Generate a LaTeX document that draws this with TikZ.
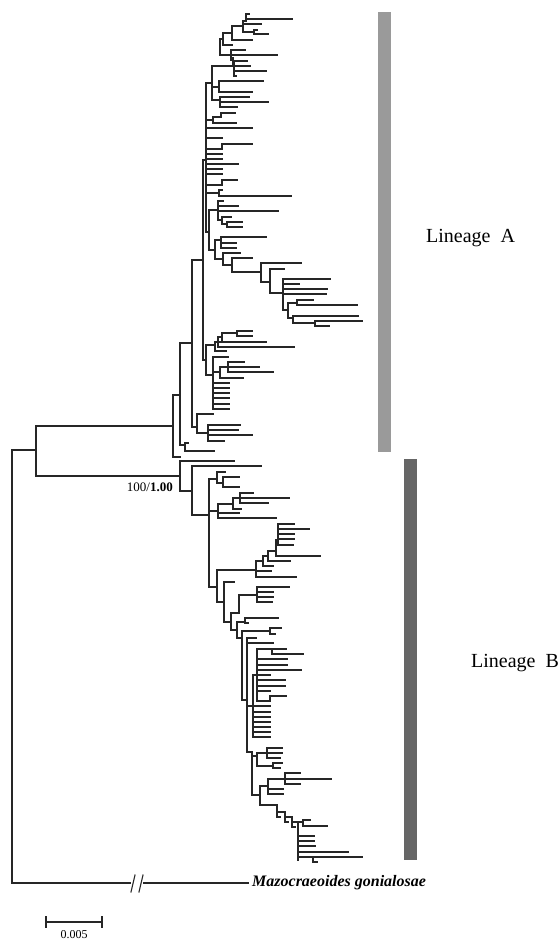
\documentclass[tikz,border=0pt]{standalone}
\usepackage{fontspec}
\setmainfont{Liberation Serif}
\definecolor{barA}{HTML}{9A9A9A}
\definecolor{barB}{HTML}{666666}
\definecolor{brc}{HTML}{262626}
\begin{document}
\begin{tikzpicture}[x=1pt,y=-1pt,
  br/.style={line width=1.1pt,draw=brc,line cap=rect},
  thickbr/.style={line width=2.2pt,draw=brc},
  lbl/.style={inner sep=0pt,font=\fontsize{20}{24}\selectfont}]
\useasboundingbox (0,0) rectangle (558,940);
% lineage bars
\fill[barA] (378,12) rectangle (391,452);
\fill[barB] (404,459) rectangle (417,860);
\node[lbl,anchor=west] (linA) at (426,238) {Lineage\enspace A};
\node[lbl,anchor=west] (linB) at (471,663) {Lineage\enspace B};
% horizontal branches y/x1/x2
\foreach \y/\a/\b in {
 14/246/249,19/246/292,21/243/246,24/243/261,30/254/257,34/254/268,32/243/254,
 26/232/243,40/232/252,33/223/232,45/223/232,39/220/223,50/231/245,55/220/277,
 60/231/233,61/233/247,66/212/250,71/234/266,76/234/236,
 83/206/212,81/219/263,87/212/219,92/219/252,97/220/249,100/212/220,102/220/268,107/220/237,
 113/221/235,117/213/221,120/206/213,123/213/236,
 128/206/252,138/206/222,144/222/252,149/206/222,154/206/222,159/206/222,164/206/238,169/206/222,174/206/222,
 180/222/237,185/206/222,190/219/222,193/206/219,196/219/291,
 201/218/223,206/218/238,211/218/278,220/218/222,217/222/231,224/222/227,222/227/242,227/227/242,
 210/209/218,250/209/215,232/206/209,240/215/221,237/221/266,243/221/236,248/221/236,
 253/223/240,259/215/223,265/223/232,258/232/252,272/232/261,
 263/261/301,282/261/270,269/270/284,293/270/283,279/283/330,284/283/299,289/283/327,294/283/326,
 310/283/288,303/288/297,300/297/313,305/297/357,318/288/293,316/293/358,323/293/315,321/315/362,326/315/329,
 160/203/206,360/203/206,260/192/203,
 345/206/215,337/218/222,333/222/237,331/237/252,336/237/252,342/215/266,347/218/294,351/215/226,
 375/206/213,357/213/228,372/213/220,367/220/259,362/228/244,372/228/273,378/220/243,
 383/213/229,388/213/229,393/213/229,398/213/229,404/213/229,409/213/229,
 343/180/192,427/192/197,414/197/213,433/197/208,425/208/240,430/208/238,435/208/252,441/208/224,
 395/173/180,445/180/185,443/185/188,451/185/214,457/173/180,426/36/173,450/12/36,
 476/36/180,461/180/234,466/192/261,515/192/209,
 479/209/217,472/217/225,483/217/223,477/223/239,487/223/239,
 511/209/218,504/218/233,498/233/289,509/233/241,493/240/253,503/240/268,513/218/239,518/218/276,
 587/209/217,570/217/256,561/256/263,571/256/271,577/256/296,556/263/268,566/263/273,
 551/268/276,561/268/290,540/276/278,556/276/320,
 524/278/294,529/278/309,534/278/294,539/278/294,545/278/293,
 602/217/224,582/224/234,622/224/231,
 587/257/289,592/257/273,597/257/273,602/257/272,595/239/257,613/231/239,
 630/231/237,622/237/245,618/245/278,623/245/248,638/237/242,631/242/270,628/270/281,634/270/275,700/242/247,
 638/247/256,643/247/273,
 649/257/286,654/272/303,659/257/287,665/257/287,670/257/301,675/257/270,680/257/285,686/257/285,
 691/257/270,696/270/286,701/257/270,675/253/257,
 706/247/270,712/253/270,717/253/270,722/253/270,727/253/270,732/253/270,737/253/270,
 752/247/252,756/252/257,753/257/267,748/267/282,753/267/282,758/267/280,766/257/273,763/273/282,768/273/280,
 795/252/260,786/260/268,779/268/331,773/285/300,784/285/300,789/268/283,794/268/283,
 805/260/277,817/277/280,812/277/285,822/285/288,817/285/292,827/292/295,822/292/303,
 820/303/310,826/303/327,836/298/314,841/298/314,846/298/315,852/298/348,857/298/362,862/313/317,
 883/12/130,883/144/248,922/46/102}
 \draw[br] (\a,\y) -- (\b,\y);
% vertical branches x/y1/y2
\foreach \x/\a/\b in {
 246/14/21,243/21/32,254/30/34,232/26/40,223/33/45,220/39/55,231/50/60,233/58/66,234/63/76,212/66/100,
 219/81/92,220/97/107,221/113/117,213/117/123,222/144/149,222/180/185,219/190/196,
 218/201/220,222/217/224,227/222/227,209/210/250,215/240/259,221/237/248,223/253/265,232/258/272,
 261/263/282,270/269/293,283/279/310,288/303/318,297/300/305,293/316/323,315/321/326,
 206/83/232,203/160/360,206/345/375,218/337/347,222/333/342,237/331/336,215/342/351,
 213/357/409,220/367/378,228/362/372,192/260/427,197/414/433,208/425/441,
 180/343/445,185/443/451,173/395/457,36/426/476,12/450/883,
 180/461/491,192/466/515,209/479/587,217/472/483,223/477/487,218/504/518,233/498/509,240/493/503,
 217/570/602,256/561/577,263/556/566,268/551/561,276/540/556,278/524/545,
 224/582/622,257/587/602,239/595/613,231/613/630,237/622/638,245/618/623,242/631/700,270/628/634,
 247/638/752,257/649/701,272/649/654,270/696/701,253/675/737,
 252/752/795,257/753/766,267/748/758,273/763/768,260/786/805,268/779/794,285/773/784,
 277/805/817,285/812/822,292/817/827,298/822/860,303/820/826,313/857/862,
 46/917/927,102/917/927}
 \draw[br] (\x,\a) -- (\x,\b);
% supported branch (thick)
\draw[thickbr] (180,491) -- (192,491);
\draw[thickbr] (209,513) -- (209,550);
% break marks on outgroup branch
\draw[br] (131,892) -- (135,875);
\draw[br] (139,892) -- (143,875);
% labels
\node[inner sep=0pt,anchor=east,font=\fontsize{13}{15}\selectfont] (supp) at (173,487) {100/\textbf{1.00}};
\node[inner sep=0pt,anchor=west,font=\fontsize{16}{19}\selectfont\bfseries\itshape] (outg) at (252,883) {Mazocraeoides gonialosae};
\node[inner sep=0pt,font=\fontsize{12}{14}\selectfont] (scl) at (74,935) {0.005};
\end{tikzpicture}
\end{document}
